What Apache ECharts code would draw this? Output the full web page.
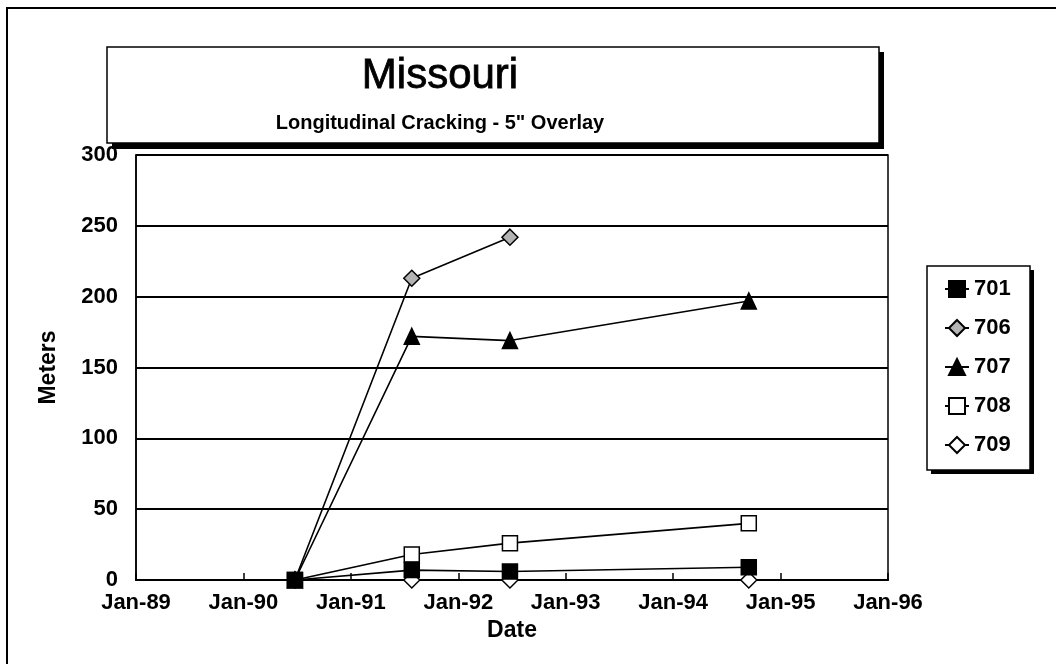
<!DOCTYPE html>
<html>
<head>
<meta charset="utf-8">
<title>Missouri - Longitudinal Cracking</title>
<script src="https://cdn.jsdelivr.net/npm/echarts@6/dist/echarts.min.js"></script>
<style>
  html, body { margin: 0; padding: 0; background: #fff; }
  #chart { width: 1056px; height: 664px; }
</style>
</head>
<body>
<div id="chart"></div>
<script>
// Survey dates and measured longitudinal cracking (meters) per test section
const surveyDates = ['1990-06-25', '1991-07-27', '1992-06-25', '1994-09-15'];
const yearTickLabels = ['Jan-89', 'Jan-90', 'Jan-91', 'Jan-92', 'Jan-93', 'Jan-94', 'Jan-95', 'Jan-96'];
const sectionNames = ['701', '706', '707', '708', '709'];
const cracking701 = [0, 7, 6, 9];
const cracking706 = [0, 213, 242];
const cracking707 = [0, 172, 169, 197];
const cracking708 = [0, 18, 26, 40];
const cracking709 = [0, 0, 0, 0];

const FIRST_YEAR = 1989;
const LAST_YEAR = 1996;

// Convert an ISO date to a fractional year for the value axis
function toYear(iso) {
  const d = new Date(iso + 'T00:00:00Z');
  const y = d.getUTCFullYear();
  const start = Date.UTC(y, 0, 1);
  const end = Date.UTC(y + 1, 0, 1);
  return y + (d.getTime() - start) / (end - start);
}

function pairs(values) {
  return values.map((v, i) => [toYear(surveyDates[i]), v]);
}

const FONT = '"Liberation Sans", Arial, Helvetica, sans-serif';
const black = '#000';

function lineSeries(name, values, symbol, size, fill, z) {
  return {
    name: name,
    type: 'line',
    data: pairs(values),
    symbol: symbol,
    symbolSize: size,
    showAllSymbol: true,
    z: z,
    lineStyle: { color: black, width: 1.6 },
    itemStyle: { color: fill, borderColor: black, borderWidth: 1.5 },
    emphasis: { disabled: true },
    animation: false
  };
}

const chart = echarts.init(document.getElementById('chart'), null, { renderer: 'canvas' });

chart.setOption({
  backgroundColor: '#fff',
  animation: false,
  textStyle: { fontFamily: FONT, color: black },
  title: [
    {
      text: 'Missouri',
      left: 435,
      top: 50,
      textAlign: 'center',
      z: 30,
      textStyle: { fontFamily: FONT, fontSize: 42, fontWeight: 'normal', color: black,
        textBorderColor: black, textBorderWidth: 0.8 }
    },
    {
      text: 'Longitudinal Cracking - 5" Overlay',
      left: 435,
      top: 108,
      textAlign: 'center',
      z: 30,
      textStyle: { fontFamily: FONT, fontSize: 20, fontWeight: 'bold', color: black }
    }
  ],
  grid: {
    left: 136,
    right: 168,
    top: 155,
    bottom: 84,
    show: true,
    borderColor: black,
    borderWidth: 1.5,
    backgroundColor: 'transparent'
  },
  xAxis: {
    type: 'value',
    min: FIRST_YEAR,
    max: LAST_YEAR,
    interval: 1,
    name: 'Date',
    nameLocation: 'middle',
    nameGap: 38,
    nameTextStyle: { fontFamily: FONT, fontSize: 23, fontWeight: 'bold', color: black },
    axisLine: { lineStyle: { color: black, width: 2 } },
    axisTick: { show: true, inside: true, length: 7, lineStyle: { color: black, width: 1.5 } },
    axisLabel: {
      fontFamily: FONT, fontSize: 22, fontWeight: 'bold', color: black, margin: 12,
      formatter: v => yearTickLabels[Math.round(v - FIRST_YEAR)]
    },
    splitLine: { show: false }
  },
  yAxis: {
    type: 'value',
    min: 0,
    max: 300,
    interval: 50,
    name: 'Meters',
    nameLocation: 'middle',
    nameGap: 76,
    nameTextStyle: { fontFamily: FONT, fontSize: 23, fontWeight: 'bold', color: black },
    axisLine: { show: true, lineStyle: { color: black, width: 1.5 } },
    axisTick: { show: false },
    axisLabel: { fontFamily: FONT, fontSize: 22, fontWeight: 'bold', color: black, margin: 18 },
    splitLine: { show: true, lineStyle: { color: black, width: 2 } }
  },
  legend: {
    orient: 'vertical',
    left: 939,
    top: 273,
    itemWidth: 24,
    itemHeight: 20,
    itemGap: 17,
    z: 30,
    selectedMode: false,
    data: sectionNames,
    textStyle: { fontFamily: FONT, fontSize: 22, fontWeight: 'bold', color: black, lineHeight: 22 }
  },
  graphic: [
    // outer page frame (left and top edges)
    { type: 'rect', z: 1, silent: true,
      shape: { x: 7, y: 8, width: 1200, height: 800 },
      style: { fill: 'none', stroke: black, lineWidth: 2 } },
    // title box shadow and box
    { type: 'rect', z: 20, silent: true,
      shape: { x: 112, y: 52, width: 772, height: 97 },
      style: { fill: black } },
    { type: 'rect', z: 21, silent: true,
      shape: { x: 107, y: 47, width: 772, height: 96 },
      style: { fill: '#fff', stroke: black, lineWidth: 1.5 } },
    // legend box shadow and box
    { type: 'rect', z: 20, silent: true,
      shape: { x: 931, y: 270, width: 103, height: 204 },
      style: { fill: black } },
    { type: 'rect', z: 21, silent: true,
      shape: { x: 927, y: 266, width: 103, height: 204 },
      style: { fill: '#fff', stroke: black, lineWidth: 1.5 } }
  ],
  series: [
    lineSeries('701', cracking701, 'rect', 15, black, 5),
    lineSeries('706', cracking706, 'diamond', 16, '#b4b4b4', 4),
    lineSeries('707', cracking707, 'triangle', [15, 16], black, 4),
    lineSeries('708', cracking708, 'rect', 15, '#fff', 4),
    lineSeries('709', cracking709, 'diamond', 16, '#fff', 2)
  ]
});
</script>
</body>
</html>
